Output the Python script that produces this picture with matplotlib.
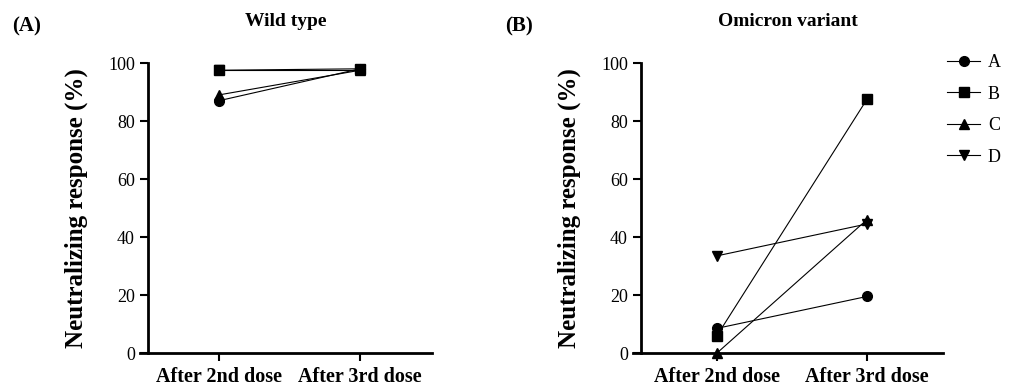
import numpy as np
import matplotlib.pyplot as plt

plt.rcParams['font.family'] = ['Liberation Serif', 'DejaVu Serif']

# data
doses = ['After 2nd dose', 'After 3rd dose']
subjects = ['A', 'B', 'C', 'D']
markers = ['o', 's', '^', 'v']

wild_A = [87.0, 98.0]
wild_B = [97.5, 98.0]
wild_C = [89.0, 97.5]
wild_D = [97.5, 97.5]

omi_A = [8.5, 19.5]
omi_B = [6.0, 87.5]
omi_C = [0.0, 46.0]
omi_D = [33.5, 44.5]

wild = [wild_A, wild_B, wild_C, wild_D]
omicron = [omi_A, omi_B, omi_C, omi_D]

fig = plt.figure(figsize=(10.19, 3.85), dpi=100)
W, H = 1019, 385

def make_axes(x0, x1, yspine):
    ax = fig.add_axes([x0 / W, (H - 353) / H, (x1 - x0) / W, (353 - 63) / H])
    ax.spines['top'].set_visible(False)
    ax.spines['right'].set_visible(False)
    ax.spines['left'].set_position(('axes', (yspine - x0) / (x1 - x0)))
    for s in ['left', 'bottom']:
        ax.spines[s].set_linewidth(2)
    ax.tick_params(width=1.5, length=6, labelsize=13)
    ax.tick_params(axis='x', labelsize=14.5, pad=4)
    ax.set_ylim(0, 100)
    ax.set_yticks([0, 20, 40, 60, 80, 100])
    ax.set_xticks([0, 1])
    ax.set_xticklabels(doses, fontweight='bold')
    ax.set_ylabel('Neutralizing response (%)', fontsize=18, fontweight='bold')
    return ax

# left panel
ax1 = make_axes(140, 432, 148)
ax1.set_xlim(-79 / 141, 1 + 72 / 141)
order = [3, 0, 2, 1]
for i in order:
    ax1.plot([0, 1], wild[i], color='black', lw=0.8, marker=markers[i],
             ms=7, clip_on=False)
ax1.set_title('Wild type', fontsize=14, fontweight='bold', pad=27)
ax1.yaxis.set_label_coords((88 - 140) / 292, 0.5)

# right panel
ax2 = make_axes(633, 943, 641)
ax2.set_xlim(-84 / 150, 1 + 76 / 150)
handles = []
for i in range(4):
    h, = ax2.plot([0, 1], omicron[i], color='black', lw=0.8, marker=markers[i],
                  ms=7, clip_on=False)
    handles.append(h)
ax2.set_title('Omicron variant', fontsize=14, fontweight='bold', pad=27)
ax2.yaxis.set_label_coords((581 - 633) / 310, 0.5)

fig.text(12 / W, 1 - 26 / H, '(A)', fontsize=15, fontweight='bold', va='center')
fig.text(505 / W, 1 - 26 / H, '(B)', fontsize=15, fontweight='bold', va='center')

fig.legend(handles, subjects, loc='upper left', bbox_to_anchor=(931 / W, 1 - 38 / H),
           frameon=False, fontsize=13, handlelength=1.8, labelspacing=0.8,
           handletextpad=0.45)

fig.savefig('out.png', dpi=100)
